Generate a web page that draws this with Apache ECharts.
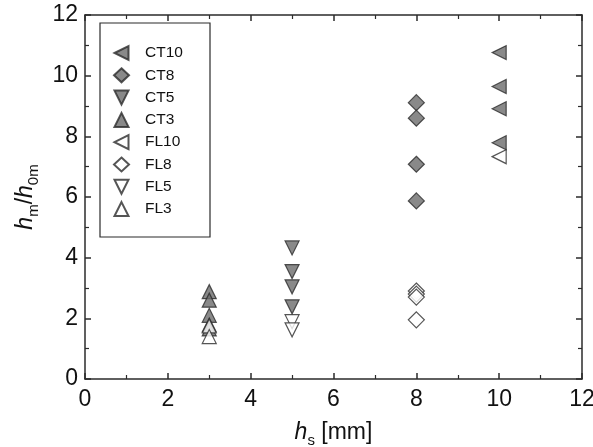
<!DOCTYPE html>
<html>
<head>
<meta charset="utf-8">
<script src="https://cdn.jsdelivr.net/npm/echarts@6/dist/echarts.min.js"></script>
<style>
  html, body { margin: 0; padding: 0; background: #fff; }
  #chart { width: 593px; height: 447px; }
</style>
</head>
<body>
<div id="chart"></div>
<script>
// data (x = h_s in mm, y = h_m/h_0m)
var ct10 = [[10, 10.76], [10, 9.64], [10, 8.91], [10, 7.79]];
var ct8 = [[8, 9.11], [8, 8.60], [8, 7.08], [8, 5.87]];
var ct5 = [[5, 4.32], [5, 3.54], [5, 3.04], [5, 2.38]];
var ct3 = [[3, 2.88], [3, 2.60], [3, 2.10], [3, 1.78], [3, 1.65]];
var fl10 = [[10, 7.33]];
var fl8 = [[8, 2.90], [8, 2.80], [8, 2.70], [8, 1.95]];
var fl5 = [[5, 1.89], [5, 1.62]];
var fl3 = [[3, 1.75], [3, 1.40]];
var xTicks = [0, 2, 4, 6, 8, 10, 12];
var yTicks = [0, 2, 4, 6, 8, 10, 12];

var font = 'Liberation Sans, Arial, sans-serif';
var dark = '#2b2b2b';

// marker shapes
var triLeft = 'path://M0,5L10,0L10,10Z';
var triDown = 'path://M0,0L10,0L5,10Z';
var triUp = 'path://M5,0L10,10L0,10Z';

function mk(name, data, symbol, size, filled) {
    return {
        name: name,
        type: 'scatter',
        data: data,
        symbol: symbol,
        symbolSize: size,
        itemStyle: {
            color: filled ? '#6b6b6b' : '#ffffff',
            borderColor: dark,
            borderWidth: 1.2
        }
    };
}

window.onload = function () {
    var chart = echarts.init(document.getElementById('chart'));
    var axisBase = {
        min: xTicks[0], max: xTicks[xTicks.length - 1], interval: 2,
        axisLine: { show: true, onZero: false, lineStyle: { color: dark, width: 1.5 } },
        axisTick: { show: true, inside: true, length: 6, lineStyle: { color: dark, width: 1.5 } },
        minorTick: { show: true, splitNumber: 2, length: 4, lineStyle: { color: dark, width: 1.2 } },
        splitLine: { show: false }
    };
    var nameRich = {
        i: { fontSize: 23, fontStyle: 'italic', fontFamily: font, color: '#111' },
        n: { fontSize: 23, fontFamily: font, color: '#111' },
        sub: { fontSize: 15, fontFamily: font, color: '#111', padding: [16, 0, 0, 0] }
    };
    chart.setOption({
        animation: false,
        textStyle: { fontFamily: font },
        grid: { left: 85, right: 11, top: 15, bottom: 68, outerBoundsMode: 'none' },
        xAxis: [
            Object.assign({}, axisBase, {
                position: 'bottom',
                axisLabel: { color: '#111', fontSize: 23, margin: 9, fontFamily: font },
                name: '{i|h}{sub|s}{n| [mm]}',
                nameLocation: 'middle',
                nameGap: 38,
                nameTextStyle: { color: '#111', fontSize: 23, fontFamily: font, rich: nameRich }
            }),
            Object.assign({}, axisBase, {
                position: 'top',
                axisLabel: { show: false }
            })
        ],
        yAxis: [
            Object.assign({}, axisBase, {
                min: yTicks[0], max: yTicks[yTicks.length - 1],
                position: 'left',
                axisLabel: { color: '#111', fontSize: 23, margin: 7, fontFamily: font },
                name: '{i|h}{sub|m}{n|/}{i|h}{sub|0m}',
                nameLocation: 'middle',
                nameGap: 44,
                nameTextStyle: { color: '#111', fontSize: 23, fontFamily: font, rich: nameRich }
            }),
            Object.assign({}, axisBase, {
                min: yTicks[0], max: yTicks[yTicks.length - 1],
                position: 'right',
                axisLabel: { show: false }
            })
        ],
        legend: {
            orient: 'vertical',
            left: 113,
            top: 45,
            padding: 0,
            itemWidth: 15,
            itemHeight: 14,
            itemGap: 6.3,
            textStyle: { fontSize: 15.5, color: '#111', fontFamily: font, padding: [0, 0, 0, 11] },
            data: ['CT10', 'CT8', 'CT5', 'CT3', 'FL10', 'FL8', 'FL5', 'FL3']
        },
        graphic: [{
            type: 'rect',
            shape: { x: 100, y: 23, width: 110, height: 214 },
            style: { fill: '#fff', stroke: dark, lineWidth: 1.2 },
            z: -1
        }],
        series: [
            mk('CT10', ct10, triLeft, 14, true),
            mk('CT8', ct8, 'diamond', 16, true),
            mk('CT5', ct5, triDown, 14, true),
            mk('CT3', ct3, triUp, 14, true),
            mk('FL10', fl10, triLeft, 14, false),
            mk('FL8', fl8, 'diamond', 16, false),
            mk('FL5', fl5, triDown, 14, false),
            mk('FL3', fl3, triUp, 14, false)
        ]
    });
};
</script>
</body>
</html>
